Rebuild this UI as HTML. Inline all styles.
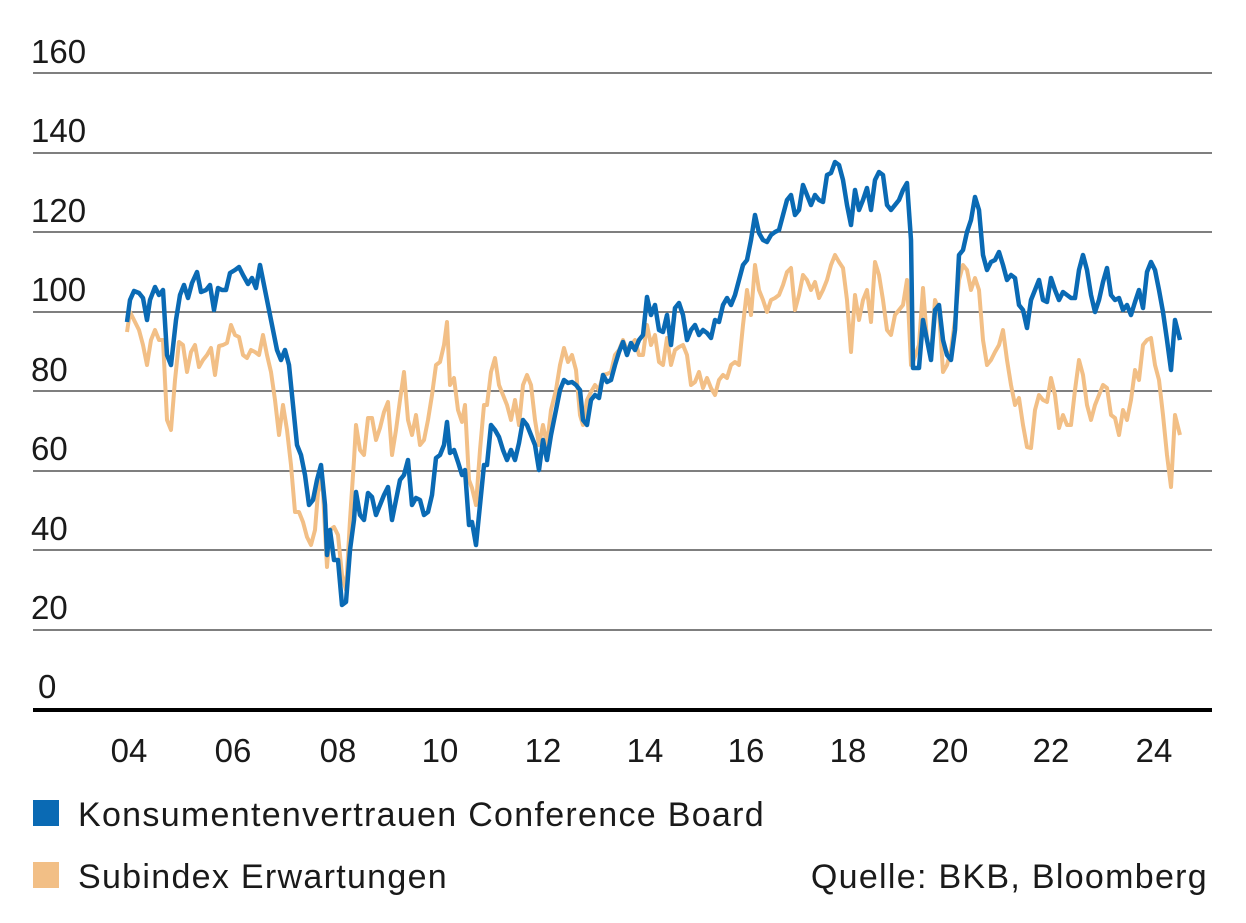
<!DOCTYPE html>
<html><head><meta charset="utf-8"><style>
html,body{margin:0;padding:0;background:#fff;}
svg{display:block;}
text{font-family:"Liberation Sans",sans-serif;fill:#1a1a1a;}
</style></head><body>
<svg width="1246" height="923" viewBox="0 0 1246 923" xmlns="http://www.w3.org/2000/svg">
<g stroke="#333" stroke-width="1.3">
<line x1="33" y1="73" x2="1212" y2="73"/>
<line x1="33" y1="153" x2="1212" y2="153"/>
<line x1="33" y1="232" x2="1212" y2="232"/>
<line x1="33" y1="312" x2="1212" y2="312"/>
<line x1="33" y1="391" x2="1212" y2="391"/>
<line x1="33" y1="471" x2="1212" y2="471"/>
<line x1="33" y1="550" x2="1212" y2="550"/>
<line x1="33" y1="630" x2="1212" y2="630"/>
</g>
<line x1="33" y1="710" x2="1212" y2="710" stroke="#000" stroke-width="4"/>
<g font-size="33">
<text x="31" y="63">160</text>
<text x="31" y="142">140</text>
<text x="31" y="222">120</text>
<text x="31" y="301">100</text>
<text x="31" y="381">80</text>
<text x="31" y="460">60</text>
<text x="31" y="540">40</text>
<text x="31" y="619">20</text>
<text x="38" y="698">0</text>
</g>
<g font-size="33" text-anchor="middle">
<text x="129" y="762">04</text><text x="233" y="762">06</text><text x="338" y="762">08</text>
<text x="440" y="762">10</text><text x="543" y="762">12</text><text x="645" y="762">14</text>
<text x="746" y="762">16</text><text x="848" y="762">18</text><text x="950" y="762">20</text>
<text x="1051" y="762">22</text><text x="1154" y="762">24</text>
</g>
<polyline fill="none" stroke="#f2bf86" stroke-width="4" stroke-linejoin="round" points="127,332 130,312 134,320 139,330 143,345 147,365 151,340 155,330 159,340 163,340 167,420 171,430 175,380 179,342 183,345 187,372 191,352 195,345 199,367 203,360 207,355 211,348 215,375 219,346 223,345 227,343 231,325 235,335 239,337 243,355 247,358 251,350 255,352 259,355 263,335 267,355 271,372 275,400 279,435 283,405 287,430 291,465 295,512 299,512 303,522 307,537 311,545 315,530 319,480 323,492 327,567 330,530 334,527 338,535 342,575 346,590 350,520 354,460 356,425 360,450 364,455 368,418 372,418 376,440 380,428 384,412 388,402 392,455 396,430 400,400 404,372 408,420 412,435 416,415 420,445 424,440 428,420 432,395 436,365 440,362 444,345 447,322 450,385 454,378 458,410 462,422 465,405 469,480 472,488 476,505 480,450 484,405 487,405 491,372 495,358 499,385 503,395 507,405 511,420 515,400 519,425 523,385 527,375 531,385 535,420 539,445 543,425 547,445 551,410 556,390 560,365 564,348 568,362 572,355 576,370 580,415 583,425 587,400 591,392 595,385 599,390 603,375 607,374 611,372 615,355 619,350 623,340 627,350 631,345 635,340 639,355 643,355 647,325 651,345 655,335 659,362 663,365 667,338 671,365 675,350 679,347 683,345 687,355 691,385 695,382 699,372 703,388 707,378 711,388 715,395 719,380 723,375 727,378 731,365 735,362 739,365 743,325 747,290 751,315 755,265 759,290 763,300 767,312 771,300 775,298 779,295 783,285 787,272 791,268 795,310 799,295 803,275 807,280 811,290 815,282 819,298 823,290 827,280 831,265 835,255 839,262 843,268 847,300 851,352 855,295 859,320 863,300 867,290 871,322 875,262 879,275 883,300 887,330 891,335 895,315 899,310 903,305 907,280 911,365 913,362 919,345 923,288 927,340 931,355 935,300 939,310 943,372 947,365 951,350 955,320 959,280 963,265 967,270 971,290 975,278 979,290 983,340 987,365 991,360 995,352 999,345 1003,330 1007,360 1011,385 1015,405 1019,398 1023,425 1027,447 1031,448 1035,410 1039,395 1043,400 1047,402 1051,378 1055,395 1059,428 1063,415 1067,425 1071,425 1075,390 1079,360 1083,375 1087,405 1091,420 1095,405 1099,395 1103,385 1107,388 1111,415 1115,418 1119,435 1123,410 1127,420 1131,400 1135,370 1139,380 1143,345 1147,340 1151,338 1155,365 1159,380 1163,415 1167,455 1171,487 1175,415 1180,435"/>
<polyline fill="none" stroke="#0a6ab4" stroke-width="4.5" stroke-linejoin="round" points="127,322 130,300 134,291 139,293 143,298 147,320 150,300 155,287 159,295 163,290 167,355 171,365 176,320 180,295 184,285 188,298 192,283 197,272 201,292 206,290 210,285 214,310 218,288 222,290 226,290 230,273 235,270 239,267 243,275 248,284 252,278 256,288 260,265 264,285 268,305 272,325 277,350 281,360 285,350 289,365 293,405 297,445 301,455 305,475 309,505 313,500 317,480 321,465 325,505 327,555 330,530 334,560 338,560 342,605 346,602 350,550 354,520 356,492 360,515 364,520 368,493 372,497 376,515 380,505 384,495 388,487 392,520 396,500 400,480 404,475 408,460 412,505 416,498 420,500 424,515 428,512 432,495 436,458 440,455 444,445 447,422 450,453 454,450 458,462 462,475 465,470 469,525 472,522 476,545 480,505 484,465 487,465 491,425 495,430 499,437 503,450 507,460 511,450 515,460 519,443 523,420 527,425 531,435 535,445 539,470 543,440 547,460 551,435 556,410 560,390 564,380 568,383 572,382 576,385 580,390 583,420 587,425 591,400 595,395 599,398 603,375 607,382 611,380 615,365 619,352 623,342 627,355 631,343 635,350 639,340 643,335 647,297 651,315 655,305 659,330 663,332 667,315 671,345 675,308 679,303 683,315 687,340 691,330 695,325 699,335 703,330 707,333 711,338 715,320 719,322 723,305 727,298 731,305 735,295 739,280 743,265 747,260 751,240 755,215 759,233 763,240 767,242 771,235 775,232 779,230 783,215 787,200 791,195 795,215 799,210 803,185 807,195 811,205 815,195 819,200 823,202 827,175 831,173 835,162 839,165 843,180 847,205 851,225 855,190 859,210 863,200 867,188 871,210 875,180 879,172 883,175 887,205 891,210 895,205 899,200 903,190 907,183 911,240 913,368 919,368 923,320 927,340 931,360 935,310 939,305 943,340 947,355 951,360 955,330 959,255 963,250 967,232 971,220 975,197 979,210 983,255 987,270 991,262 995,260 999,252 1003,265 1007,280 1011,275 1015,278 1019,305 1023,310 1027,328 1031,300 1035,290 1039,280 1043,300 1047,302 1051,278 1055,290 1059,300 1063,292 1067,295 1071,298 1075,298 1079,270 1083,255 1087,270 1091,295 1095,312 1099,300 1103,282 1107,268 1111,295 1115,300 1119,298 1123,310 1127,305 1131,315 1135,302 1139,290 1143,308 1147,272 1151,262 1155,270 1159,290 1163,312 1167,340 1171,370 1175,320 1180,340"/>
<rect x="33" y="800" width="26" height="26" fill="#0a6ab4"/>
<rect x="33" y="862" width="26" height="26" fill="#f2bf86"/>
<g font-size="34" letter-spacing="1.3">
<text x="78" y="826">Konsumentenvertrauen Conference Board</text>
<text x="78" y="888">Subindex Erwartungen</text>
<text x="1208" y="888" text-anchor="end">Quelle: BKB, Bloomberg</text>
</g>
</svg>
</body></html>
